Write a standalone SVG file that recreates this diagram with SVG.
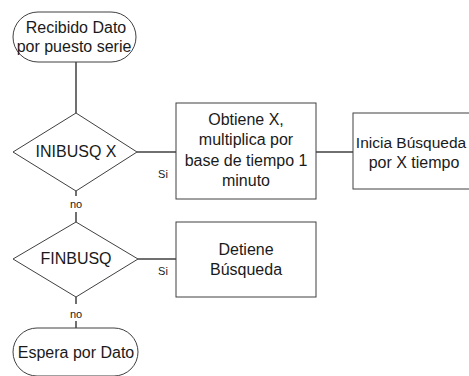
<svg xmlns="http://www.w3.org/2000/svg" width="469" height="376" viewBox="0 0 469 376">
<style>
.shape{fill:#fff;stroke:#404040;stroke-width:1}
.conn{stroke:#404040;stroke-width:1.5;fill:none}
text{font-family:"Liberation Sans",Arial,sans-serif;fill:#1a1a1a;text-anchor:middle}
.t{font-size:16px}
.s{font-size:11px}
</style>
<rect width="469" height="376" fill="#fff"/>
<g id="connectors">
<line class="conn" x1="76" y1="62" x2="76" y2="113"/>
<line class="conn" x1="137" y1="152" x2="176" y2="152"/>
<line class="conn" x1="316" y1="152" x2="353" y2="152"/>
<line class="conn" x1="76" y1="191" x2="76" y2="196"/>
<line class="conn" x1="76" y1="212" x2="76" y2="222"/>
<line class="conn" x1="138" y1="259" x2="176" y2="259"/>
<line class="conn" x1="76" y1="297" x2="76" y2="304"/>
<line class="conn" x1="76" y1="321" x2="76" y2="328"/>
<text class="s" x="163" y="178">Si</text>
<text class="s" x="76" y="208">no</text>
<text class="s" x="163" y="275">Si</text>
<text class="s" x="76" y="318">no</text>
</g>
<g id="start">
<rect class="shape" x="13" y="12" width="123" height="50" rx="25" ry="25"/>
<text class="t" x="76" y="33">Recibido Dato</text>
<text class="t" x="74" y="52">por puesto serie</text>
</g>
<g id="inibusq">
<polygon class="shape" points="76,113 137,152 76,191 13,152"/>
<text class="t" x="76" y="157">INIBUSQ X</text>
</g>
<g id="obtiene">
<rect class="shape" x="176" y="103" width="140" height="96"/>
<text class="t" x="246" y="125">Obtiene X,</text>
<text class="t" x="246" y="145">multiplica por</text>
<text class="t" x="246" y="166">base de tiempo 1</text>
<text class="t" x="246" y="186">minuto</text>
</g>
<g id="inicia">
<rect class="shape" x="353" y="113" width="128" height="76"/>
<text class="t" x="411" y="148" style="font-size:15.5px">Inicia Búsqueda</text>
<text class="t" x="414" y="168">por X tiempo</text>
</g>
<g id="finbusq">
<polygon class="shape" points="76,222 138,259 76,297 13,259"/>
<text class="t" x="76" y="264">FINBUSQ</text>
</g>
<g id="detiene">
<rect class="shape" x="176" y="222" width="140" height="75"/>
<text class="t" x="246" y="255">Detiene</text>
<text class="t" x="246" y="275">Búsqueda</text>
</g>
<g id="espera">
<rect class="shape" x="13" y="328" width="125" height="48" rx="24" ry="24"/>
<text class="t" x="76" y="358">Espera por Dato</text>
</g>
</svg>
